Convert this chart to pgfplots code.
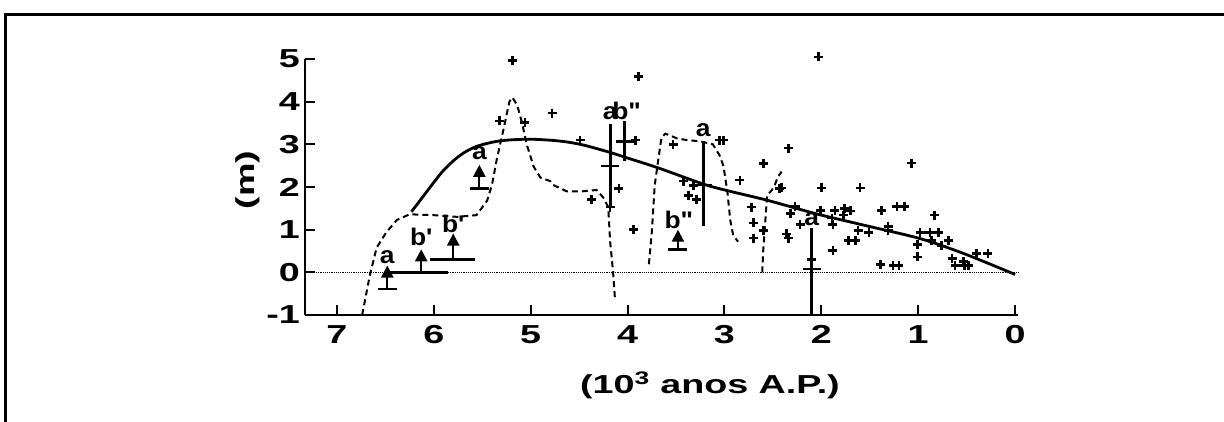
\documentclass[border=0pt]{standalone}
\usepackage{fontspec}
\setmainfont{Liberation Sans}[FakeStretch=1.45]
\newfontfamily\lblfont{Liberation Sans}[FakeStretch=1.1]
\usepackage{pgfplots}
\pgfplotsset{compat=1.18}
\usepackage{pgfplotstable}
\usetikzlibrary{arrows.meta}

% solid curve
\pgfplotstableread{
x y
6.23 1.42
6.07 1.90
5.90 2.39
5.73 2.74
5.56 2.95
5.32 3.08
5.04 3.12
4.82 3.10
4.64 3.06
4.45 2.98
4.18 2.81
4.03 2.70
3.70 2.46
3.22 2.07
2.98 1.92
2.56 1.69
2.05 1.37
1.57 1.11
0.98 0.79
0.53 0.44
0.00 -0.05
}\solid

% dashed curve, three pieces
\pgfplotstableread{
x y
6.74 -1.00
6.66 -0.06
6.59 0.58
6.49 0.94
6.38 1.23
6.25 1.36
6.00 1.34
5.76 1.30
5.56 1.34
5.45 1.68
5.40 2.05
5.35 2.65
5.28 3.36
5.22 4.00
5.19 4.10
5.14 3.92
5.09 3.51
5.04 2.99
4.97 2.48
4.90 2.22
4.80 2.14
4.77 2.05
4.63 1.90
4.46 1.90
4.32 1.93
4.25 1.75
4.20 1.53
4.18 0.72
4.15 0.01
4.13 -0.63
}\dashA
\pgfplotstableread{
x y
3.78 0.19
3.75 0.94
3.72 2.04
3.68 2.69
3.65 3.16
3.61 3.25
3.49 3.14
3.39 3.10
3.25 3.07
3.12 3.00
3.05 2.74
3.01 2.49
2.97 1.89
2.94 1.22
2.91 0.87
2.86 0.72
}\dashB
\pgfplotstableread{
x y
2.61 0.00
2.60 0.51
2.58 1.15
2.56 1.80
2.51 1.93
2.48 2.05
2.45 2.23
2.41 2.36
}\dashC

% data points (+)
\pgfplotstableread{
x y
5.19 4.97
5.32 3.55
5.06 3.51
4.78 3.73
3.89 4.59
4.49 3.10
3.92 3.10
4.09 1.97
4.37 1.71
3.94 1.01
4.18 1.53
3.53 2.99
3.42 2.14
3.37 1.80
3.29 1.71
3.32 2.04
3.05 3.10
3.01 3.10
2.84 2.16
2.60 2.55
2.72 1.53
2.70 1.16
2.70 0.80
2.60 0.98
2.34 2.91
2.43 1.96
2.32 1.38
2.22 1.12
2.36 0.90
2.34 0.80
2.03 5.05
1.07 2.56
2.41 1.98
2.00 1.98
1.60 1.98
2.27 1.54
2.01 1.45
1.86 1.45
1.76 1.49
1.70 1.44
1.77 1.34
1.38 1.45
1.22 1.54
1.14 1.54
0.83 1.34
1.89 1.27
1.88 1.12
1.62 0.98
1.51 0.93
1.31 1.08
1.31 0.98
1.72 0.74
1.65 0.74
1.88 0.51
1.39 0.19
1.26 0.16
1.20 0.16
0.98 0.94
0.88 0.94
0.79 0.94
1.01 0.65
1.01 0.36
0.86 0.74
0.69 0.74
0.76 0.62
0.65 0.33
0.62 0.16
0.53 0.26
0.52 0.16
0.48 0.16
0.40 0.44
0.28 0.44
2.10 0.30
}\pts

% upward-arrow indicators: base y, arrow length v
\pgfplotstableread{
x y v
6.48 -0.39 0.55
6.13 0.00 0.54
5.80 0.30 0.61
5.53 1.96 0.56
3.48 0.54 0.46
}\arrows

% vertical bars: centre, plus, minus
\pgfplotstableread{
x y ep em
4.18 2.49 0.98 0.96
4.03 3.07 0.48 0.45
3.22 2.05 1.02 0.97
2.10 0.08 0.95 1.08
}\bars

% labels
\pgfplotstableread{
x y lab
6.48 0.36 a
6.13 0.84 b'
5.80 1.13 b'
5.53 2.80 a
4.18 3.72 a
4.01 3.78 b"
3.22 3.33 a
3.47 1.23 b"
2.10 1.24 a
}\labels

\begin{document}
\begin{tikzpicture}
\useasboundingbox (0,0) rectangle (1224pt,422pt);
\draw[line width=3pt] (5pt,0pt) -- (5pt,407pt) -- (1224pt,407pt);
\begin{axis}[
  scale only axis, width=713pt, height=256pt,
  anchor=south west, at={(305pt,107pt)},
  x dir=reverse, xmin=-0.03, xmax=7.33, ymin=-1, ymax=5,
  axis lines=left, axis line style={line width=2.5pt,-},
  xtick={0,1,2,3,4,5,6,7}, xticklabels={0,1,2,3,4,5,6,7},
  ytick={-1,0,1,2,3,4,5}, yticklabels={-1,0,1,2,3,4,5},
  tick align=inside, major tick length=10pt,
  tick style={line width=2pt,black},
  xticklabel style={font=\fontsize{26}{30}\selectfont\bfseries, inner sep=0pt, anchor=north, yshift=-10pt},
  yticklabel style={font=\fontsize{26}{30}\selectfont\bfseries, inner sep=0pt, anchor=east, xshift=-5pt},
  xlabel={(10\textsuperscript{3} anos A.P.)},
  ylabel={(m)},
  xlabel style={font=\fontsize{26}{30}\selectfont\bfseries, at={(axis description cs:0.568,-0.273)}, anchor=center},
  ylabel style={font=\fontsize{26}{30}\selectfont\bfseries, at={(axis description cs:-0.080,0.527)}, anchor=center},
  clip=false,
]
% zero line
\addplot[black, line width=1.2pt, densely dotted] coordinates {(7.33,0) (-0.03,0)};
% solid curve
\addplot[black, line width=2.8pt, smooth, no marks] table {\solid};
% dashed curve
\addplot[black, line width=2pt, dash pattern=on 6pt off 4pt, no marks] table {\dashA};
\addplot[black, line width=2pt, dash pattern=on 6pt off 4pt, no marks] table {\dashB};
\addplot[black, line width=2pt, dash pattern=on 6pt off 4pt, no marks] table {\dashC};
% data points
\addplot[only marks, mark=+, mark size=4.5pt, mark options={line width=2.6pt, black}] table {\pts};
% horizontal age ranges
\addplot[black, line width=2.5pt, no marks] coordinates {(6.48,0) (5.85,0)};
\addplot[black, line width=2.5pt, no marks] coordinates {(6.04,0.30) (5.58,0.30)};
% arrows
\addplot[black, line width=2.2pt, -{Triangle[width=12pt,length=12pt]},
  quiver={u=0, v=\thisrow{v}}] table {\arrows};
\addplot[only marks, mark=-, mark size=9.5pt, mark options={line width=2.5pt, black}] table {\arrows};
% vertical bars
\addplot[only marks, black, mark=-, mark size=9pt, mark options={line width=2.5pt},
  error bars/.cd, y dir=both, y explicit, error mark=none,
  error bar style={line width=2.8pt, black}]
  table[y error plus=ep, y error minus=em] {\bars};
% labels
\addplot[only marks, mark=none, nodes near coords, point meta=explicit symbolic,
  nodes near coords style={anchor=center, inner sep=0pt, font=\lblfont\fontsize{24}{28}\selectfont\bfseries, text=black}]
  table[meta=lab] {\labels};
\end{axis}
\end{tikzpicture}
\end{document}
